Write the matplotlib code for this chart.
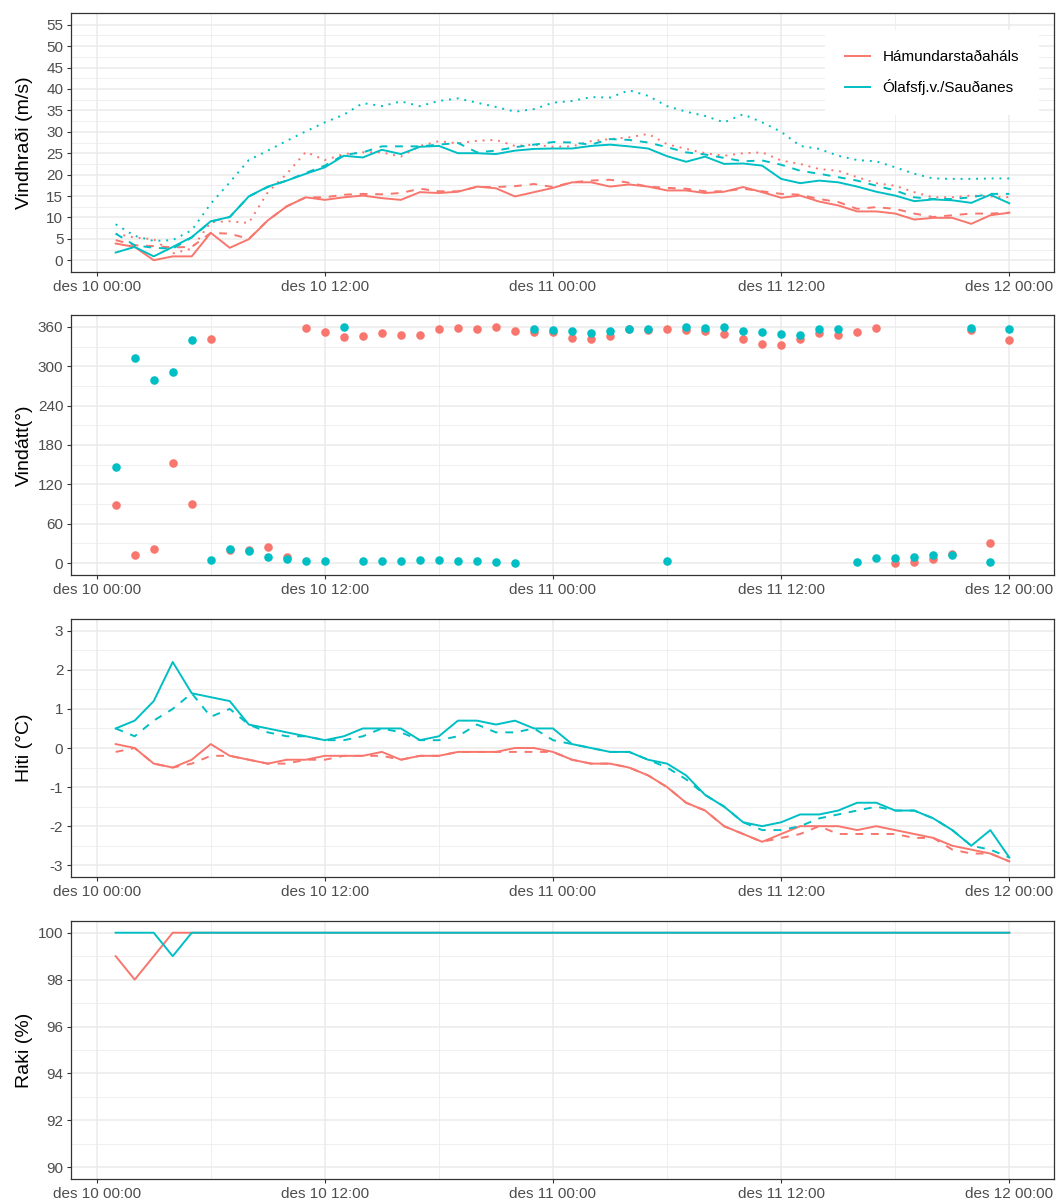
import numpy as np
import matplotlib.pyplot as plt
from matplotlib.lines import Line2D

plt.rcParams["font.family"] = ["Liberation Sans", "DejaVu Sans"]
plt.rcParams["axes.unicode_minus"] = False

# hours after des 10 00:00
hours = np.arange(1, 49)
tick_hours = [0, 12, 24, 36, 48]
tick_labels = ["des 10 00:00", "des 10 12:00", "des 11 00:00", "des 11 12:00", "des 12 00:00"]
stations = ["Hámundarstaðaháls", "Ólafsfj.v./Sauðanes"]
colors = ["#F8766D", "#00BFC4"]

# wind speed (m/s): solid = mean, dashed = max 10 min, dotted = gust
ham_f = [3.9, 3.1, 0.0, 0.9, 0.9, 6.4, 2.9, 4.9, 9.3, 12.6, 14.7, 14.1,
         14.7, 15.1, 14.5, 14.1, 15.9, 15.7, 16.0, 17.2, 16.8, 14.9, 15.9, 16.9,
         18.2, 18.2, 17.2, 17.7, 17.2, 16.3, 16.3, 15.7, 16.0, 17.1, 15.9, 14.6,
         15.1, 13.7, 12.8, 11.4, 11.4, 10.9, 9.5, 9.9, 9.9, 8.5, 10.5, 11.1]
ham_fx = [4.7, 3.5, 3.3, 3.0, 3.1, 6.4, 6.2, 5.0, 9.3, 12.6, 14.7, 14.7,
          15.3, 15.5, 15.4, 15.7, 16.7, 16.1, 16.1, 17.1, 17.1, 17.3, 17.8, 17.1,
          18.2, 18.6, 18.8, 18.1, 17.2, 16.9, 16.7, 16.1, 16.1, 16.7, 16.1, 15.5,
          15.3, 14.3, 13.6, 12.0, 12.4, 12.0, 10.9, 10.1, 10.5, 10.9, 10.9, 11.1]
ham_fg = [6.2, 5.3, 4.9, 1.6, 2.7, 8.9, 9.1, 8.7, 15.9, 20.2, 25.3, 23.4,
          24.8, 25.2, 25.2, 24.2, 26.7, 27.8, 27.3, 27.9, 28.1, 26.7, 27.0, 26.5,
          26.6, 27.8, 28.3, 28.7, 29.5, 27.1, 26.0, 25.0, 24.4, 25.0, 25.2, 23.3,
          22.5, 21.3, 20.9, 19.4, 18.0, 17.4, 15.9, 14.7, 14.7, 15.1, 14.9, 14.7]
ola_f = [1.8, 3.1, 0.9, 3.1, 5.4, 9.1, 10.1, 14.9, 17.2, 18.6, 20.2, 21.7,
         24.4, 24.0, 25.8, 24.8, 26.5, 26.7, 25.0, 25.0, 24.8, 25.6, 26.0, 26.1,
         26.1, 26.7, 27.0, 26.6, 26.1, 24.3, 23.0, 24.2, 22.5, 22.6, 22.1, 19.0,
         18.0, 18.6, 18.2, 17.2, 16.0, 15.1, 13.8, 14.2, 14.0, 13.4, 15.3, 13.3]
ola_fx = [6.2, 3.5, 2.9, 2.7, 5.3, 9.0, 10.1, 14.9, 17.1, 18.6, 20.4, 22.1,
          24.6, 25.2, 26.6, 26.6, 26.6, 27.0, 27.4, 25.2, 25.6, 26.4, 27.0, 27.6,
          27.5, 27.0, 28.3, 28.1, 27.5, 26.4, 25.2, 24.7, 23.9, 23.1, 23.3, 22.3,
          20.9, 20.2, 19.4, 18.6, 17.4, 16.3, 14.7, 14.3, 14.3, 14.7, 15.5, 15.5]
ola_fg = [8.4, 5.7, 4.5, 4.7, 7.0, 13.2, 18.2, 23.4, 25.6, 27.9, 30.1, 32.2,
          34.0, 36.7, 36.0, 37.1, 36.0, 37.2, 37.8, 36.8, 35.8, 34.7, 35.3, 36.8,
          37.2, 38.1, 38.0, 39.7, 38.4, 36.0, 34.7, 33.7, 32.2, 34.1, 32.2, 30.0,
          26.7, 26.0, 24.4, 23.4, 23.1, 21.7, 20.2, 19.1, 19.0, 19.0, 19.1, 19.1]

# wind direction (degrees)
ham_d = [89, 12, 22, 152, 90, 341, 20, 20, 25, 9, 358, 352,
         345, 346, 350, 348, 347, 356, 358, 356, 359, 353, 352, 352,
         343, 341, 346, 356, 355, 356, 355, 353, 349, 342, 334, 333,
         341, 350, 348, 352, 358, 0, 2, 6, 14, 355, 30, 340]
ola_d = [147, 313, 279, 291, 340, 5, 21, 19, 9, 6, 3, 3,
         360, 3, 4, 3, 5, 5, 4, 4, 2, 0, 357, 355,
         353, 351, 354, 356, 356, 4, 360, 358, 360, 354, 352, 349,
         348, 357, 357, 2, 8, 8, 9, 13, 13, 358, 2, 356]

# temperature (deg C): solid = observed, dashed = second sensor
ham_t = [0.1, 0.0, -0.4, -0.5, -0.3, 0.1, -0.2, -0.3, -0.4, -0.3, -0.3, -0.2,
         -0.2, -0.2, -0.1, -0.3, -0.2, -0.2, -0.1, -0.1, -0.1, 0.0, 0.0, -0.1,
         -0.3, -0.4, -0.4, -0.5, -0.7, -1.0, -1.4, -1.6, -2.0, -2.2, -2.4, -2.2,
         -2.0, -2.0, -2.0, -2.1, -2.0, -2.1, -2.2, -2.3, -2.5, -2.6, -2.7, -2.9]
ham_t2 = [-0.1, 0.0, -0.4, -0.5, -0.4, -0.2, -0.2, -0.3, -0.4, -0.4, -0.3, -0.3,
          -0.2, -0.2, -0.2, -0.3, -0.2, -0.2, -0.1, -0.1, -0.1, -0.1, -0.1, -0.1,
          -0.3, -0.4, -0.4, -0.5, -0.7, -1.0, -1.4, -1.6, -2.0, -2.2, -2.4, -2.3,
          -2.2, -2.0, -2.2, -2.2, -2.2, -2.2, -2.3, -2.3, -2.6, -2.7, -2.7, -2.9]
ola_t = [0.5, 0.7, 1.2, 2.2, 1.4, 1.3, 1.2, 0.6, 0.5, 0.4, 0.3, 0.2,
         0.3, 0.5, 0.5, 0.5, 0.2, 0.3, 0.7, 0.7, 0.6, 0.7, 0.5, 0.5,
         0.1, 0.0, -0.1, -0.1, -0.3, -0.4, -0.7, -1.2, -1.5, -1.9, -2.0, -1.9,
         -1.7, -1.7, -1.6, -1.4, -1.4, -1.6, -1.6, -1.8, -2.1, -2.5, -2.1, -2.8]
ola_t2 = [0.5, 0.3, 0.7, 1.0, 1.4, 0.8, 1.0, 0.6, 0.4, 0.3, 0.3, 0.2,
          0.2, 0.3, 0.5, 0.4, 0.2, 0.2, 0.3, 0.6, 0.4, 0.4, 0.5, 0.2,
          0.1, 0.0, -0.1, -0.1, -0.3, -0.5, -0.8, -1.2, -1.5, -1.9, -2.1, -2.1,
          -2.0, -1.8, -1.7, -1.6, -1.5, -1.6, -1.6, -1.8, -2.1, -2.5, -2.6, -2.8]

# relative humidity (%)
ham_rh = [99, 98, 99, 100] + [100] * 44
ola_rh = [100, 100, 100, 99] + [100] * 44

fig = plt.figure(figsize=(10.56, 12.03), dpi=100)
W, H = 1056, 1203
panels = [(13, 272), (315, 575), (619, 877), (921, 1179)]
axes = [fig.add_axes([71 / W, 1 - b / H, 983 / W, (b - t) / H]) for t, b in panels]


def style(ax, lo, hi, major, minor, label):
    pad = (hi - lo) * 0.05
    ax.set_ylim(lo - pad, hi + pad)
    ax.set_xlim(1 - 47 * 0.05, 48 + 47 * 0.05)
    ax.set_yticks(major)
    ax.set_yticks(minor, minor=True)
    ax.set_xticks(tick_hours)
    ax.set_xticklabels(tick_labels)
    ax.set_xticks([6, 18, 30, 42], minor=True)
    ax.grid(True, which="major", color="#EBEBEB", lw=1.1)
    ax.grid(True, which="minor", color="#EBEBEB", lw=0.55)
    ax.set_axisbelow(True)
    ax.tick_params(which="major", length=3, width=0.8, color="#333333",
                   labelsize=11, labelcolor="#4D4D4D", pad=2.5)
    ax.tick_params(which="minor", length=0)
    for s in ax.spines.values():
        s.set_color("#333333")
        s.set_linewidth(0.9)
    ax.set_ylabel(label, fontsize=14, color="black")
    ax.yaxis.set_label_coords(-0.039, 0.5)


lw = 1.4
ax = axes[0]
for i, (f, fx, fg) in enumerate([(ham_f, ham_fx, ham_fg), (ola_f, ola_fx, ola_fg)]):
    ax.plot(hours, f, color=colors[i], lw=lw)
    ax.plot(hours, fx, color=colors[i], lw=lw, dashes=(4, 4))
    ax.plot(hours, fg, color=colors[i], lw=lw, dashes=(1, 3))
style(ax, 0, 55, np.arange(0, 56, 5), np.arange(2.5, 56, 5), "Vindhraði (m/s)")
handles = [Line2D([], [], color=c, lw=lw) for c in colors]
leg = ax.legend(handles, stations, loc="center", bbox_to_anchor=(0.876, 0.77),
                fontsize=11, frameon=True, fancybox=False, edgecolor="none",
                framealpha=1, borderpad=1.3, handlelength=1.6, handletextpad=0.85,
                labelspacing=1.0)

ax = axes[1]
ax.scatter(hours, ham_d, s=38, color=colors[0], linewidths=0, zorder=3)
ax.scatter(hours, ola_d, s=38, color=colors[1], linewidths=0, zorder=3)
style(ax, 0, 360, np.arange(0, 361, 60), np.arange(30, 361, 60), "Vindátt(°)")

ax = axes[2]
ax.plot(hours, ham_t, color=colors[0], lw=lw)
ax.plot(hours, ham_t2, color=colors[0], lw=lw, dashes=(4, 4))
ax.plot(hours, ola_t, color=colors[1], lw=lw)
ax.plot(hours, ola_t2, color=colors[1], lw=lw, dashes=(4, 4))
style(ax, -3, 3, np.arange(-3, 4, 1), np.arange(-2.5, 3, 1), "Hiti (°C)")

ax = axes[3]
ax.plot(hours, ham_rh, color=colors[0], lw=lw)
ax.plot(hours, ola_rh, color=colors[1], lw=lw)
style(ax, 90, 100, np.arange(90, 101, 2), np.arange(91, 100, 2), "Raki (%)")

fig.savefig("out.png", dpi=100)
